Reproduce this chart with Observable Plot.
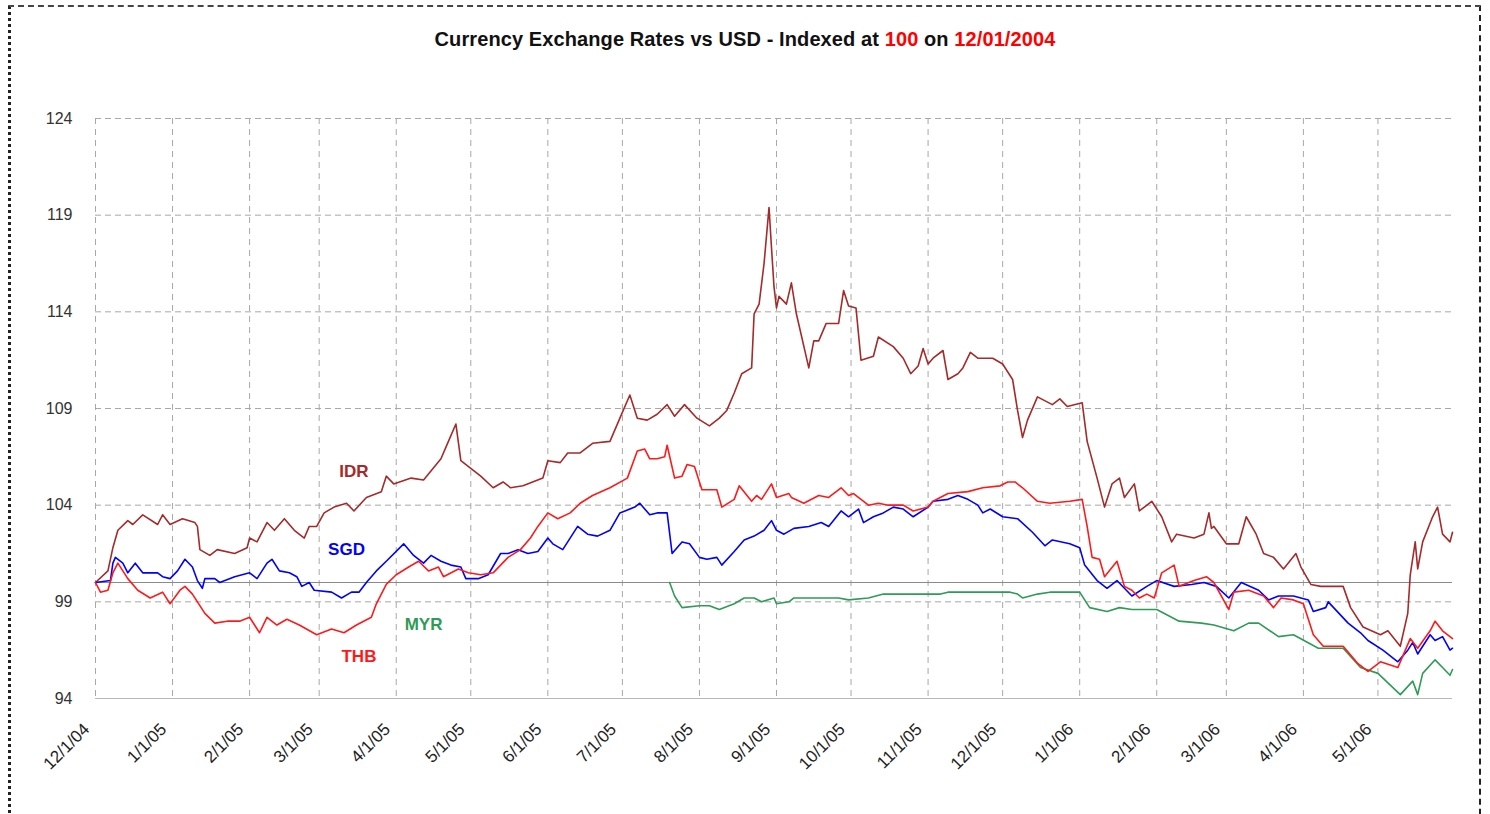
<!DOCTYPE html>
<html>
<head>
<meta charset="utf-8">
<script src="https://cdn.jsdelivr.net/npm/d3@7"></script>
<script src="https://cdn.jsdelivr.net/npm/@observablehq/plot@0.6"></script>
<style>
html,body{margin:0;padding:0;overflow:hidden;background:#fff;width:1490px;height:814px;}
body{font-family:"Liberation Sans",Arial,sans-serif;position:relative;}
#frame{position:absolute;left:8px;top:5px;width:1473px;height:840px;border-left:3px dotted #222;border-right:2px dashed #222;border-top:2px dashed #444;box-sizing:border-box;}
#title{position:absolute;top:28px;left:0;width:1490px;text-align:center;font-family:"Liberation Sans",Arial,sans-serif;font-weight:bold;font-size:20px;color:#111;letter-spacing:0.1px;}
#title .r{color:#ff0000;}
#chart{position:absolute;left:0;top:100px;}
</style>
</head>
<body>
<div id="frame"></div>
<div id="title">Currency Exchange Rates vs USD - Indexed at <span class="r">100</span> on <span class="r">12/01/2004</span></div>
<div id="chart"></div>
<script>
const currencies = ["IDR", "SGD", "THB", "MYR"];
const yTicks = [94, 99, 104, 109, 114, 119, 124];
const xTickDates = ["2004-12-01","2005-01-01","2005-02-01","2005-03-01","2005-04-01","2005-05-01","2005-06-01","2005-07-01","2005-08-01","2005-09-01","2005-10-01","2005-11-01","2005-12-01","2006-01-01","2006-02-01","2006-03-01","2006-04-01","2006-05-01"];
const xTickLabels = ["12/1/04","1/1/05","2/1/05","3/1/05","4/1/05","5/1/05","6/1/05","7/1/05","8/1/05","9/1/05","10/1/05","11/1/05","12/1/05","1/1/06","2/1/06","3/1/06","4/1/06","5/1/06"];
const xDomain = ["2004-12-01", "2006-05-31"];

const IDR = [
["2004-12-01",100.0],["2004-12-06",100.6],["2004-12-08",101.8],["2004-12-10",102.7],["2004-12-14",103.2],["2004-12-16",103.0],["2004-12-20",103.5],["2004-12-26",103.0],["2004-12-28",103.5],["2004-12-31",103.0],
["2005-01-05",103.3],["2005-01-10",103.1],["2005-01-11",102.9],["2005-01-12",101.7],["2005-01-16",101.4],["2005-01-19",101.7],["2005-01-26",101.5],["2005-01-31",101.8],
["2005-02-01",102.3],["2005-02-04",102.1],["2005-02-08",103.1],["2005-02-11",102.7],["2005-02-15",103.3],["2005-02-19",102.7],["2005-02-23",102.3],["2005-02-25",102.9],["2005-02-28",102.9],
["2005-03-03",103.6],["2005-03-07",103.9],["2005-03-12",104.1],["2005-03-15",103.7],["2005-03-20",104.4],["2005-03-26",104.7],["2005-03-28",105.5],["2005-03-31",105.1],
["2005-04-07",105.4],["2005-04-12",105.3],["2005-04-19",106.4],["2005-04-22",107.3],["2005-04-25",108.2],["2005-04-27",106.3],
["2005-05-01",105.9],["2005-05-05",105.5],["2005-05-10",104.9],["2005-05-14",105.2],["2005-05-17",104.9],["2005-05-22",105.0],["2005-05-30",105.4],
["2005-06-01",106.3],["2005-06-06",106.2],["2005-06-09",106.7],["2005-06-14",106.7],["2005-06-19",107.2],["2005-06-26",107.3],["2005-06-30",108.5],
["2005-07-04",109.7],["2005-07-07",108.5],["2005-07-11",108.4],["2005-07-15",108.7],["2005-07-19",109.2],["2005-07-22",108.6],["2005-07-26",109.2],["2005-07-31",108.5],
["2005-08-05",108.1],["2005-08-09",108.5],["2005-08-12",108.9],["2005-08-15",109.8],["2005-08-18",110.8],["2005-08-22",111.1],["2005-08-23",113.9],["2005-08-25",114.4],["2005-08-27",116.5],["2005-08-29",119.4],["2005-08-30",117.3],["2005-08-31",115.3],
["2005-09-01",114.2],["2005-09-02",114.8],["2005-09-05",114.4],["2005-09-07",115.5],["2005-09-09",113.9],["2005-09-14",111.1],["2005-09-16",112.5],["2005-09-18",112.5],["2005-09-21",113.4],["2005-09-26",113.4],["2005-09-28",115.1],["2005-09-30",114.3],
["2005-10-03",114.2],["2005-10-05",111.5],["2005-10-10",111.7],["2005-10-12",112.7],["2005-10-18",112.2],["2005-10-22",111.6],["2005-10-25",110.8],["2005-10-28",111.2],["2005-10-30",112.1],
["2005-11-01",111.3],["2005-11-03",111.6],["2005-11-07",112.0],["2005-11-09",110.5],["2005-11-13",110.8],["2005-11-15",111.1],["2005-11-18",111.9],["2005-11-21",111.6],["2005-11-27",111.6],
["2005-12-01",111.3],["2005-12-05",110.5],["2005-12-07",108.9],["2005-12-09",107.5],["2005-12-11",108.4],["2005-12-15",109.6],["2005-12-21",109.2],["2005-12-24",109.5],["2005-12-27",109.1],
["2006-01-02",109.3],["2006-01-04",107.3],["2006-01-08",105.4],["2006-01-11",103.9],["2006-01-14",105.1],["2006-01-17",105.4],["2006-01-19",104.4],["2006-01-23",105.1],["2006-01-25",103.7],["2006-01-30",104.2],
["2006-02-03",103.4],["2006-02-07",102.1],["2006-02-09",102.5],["2006-02-16",102.3],["2006-02-20",102.5],["2006-02-22",103.6],["2006-02-23",102.8],["2006-02-24",102.9],
["2006-03-01",102.0],["2006-03-06",102.0],["2006-03-09",103.4],["2006-03-13",102.5],["2006-03-16",101.5],["2006-03-20",101.3],["2006-03-24",100.7],["2006-03-29",101.5],["2006-03-31",100.8],
["2006-04-04",99.9],["2006-04-08",99.8],["2006-04-17",99.8],["2006-04-20",98.7],["2006-04-25",97.7],
["2006-05-02",97.3],["2006-05-05",97.5],["2006-05-10",96.7],["2006-05-13",98.4],["2006-05-14",100.4],["2006-05-16",102.1],["2006-05-17",100.7],["2006-05-19",102.1],["2006-05-23",103.4],["2006-05-25",103.9],["2006-05-27",102.5],["2006-05-30",102.1],["2006-05-31",102.6]
];

const SGD = [
["2004-12-01",100.0],["2004-12-07",100.1],["2004-12-08",101.0],["2004-12-09",101.3],["2004-12-12",101.0],["2004-12-14",100.5],["2004-12-17",101.0],["2004-12-20",100.5],["2004-12-26",100.5],["2004-12-28",100.3],["2004-12-31",100.2],
["2005-01-03",100.6],["2005-01-06",101.2],["2005-01-09",100.8],["2005-01-11",100.1],["2005-01-13",99.7],["2005-01-14",100.2],["2005-01-18",100.2],["2005-01-20",100.0],["2005-01-26",100.3],
["2005-02-01",100.5],["2005-02-04",100.2],["2005-02-08",101.0],["2005-02-10",101.2],["2005-02-13",100.6],["2005-02-17",100.5],["2005-02-20",100.3],["2005-02-22",99.8],["2005-02-25",100.0],["2005-02-27",99.6],
["2005-03-06",99.5],["2005-03-10",99.2],["2005-03-14",99.5],["2005-03-17",99.5],["2005-03-20",100.0],["2005-03-24",100.6],["2005-03-28",101.1],
["2005-04-04",102.0],["2005-04-08",101.4],["2005-04-12",101.0],["2005-04-15",101.4],["2005-04-19",101.1],["2005-04-23",100.9],["2005-04-27",100.8],["2005-04-29",100.2],
["2005-05-04",100.2],["2005-05-08",100.4],["2005-05-13",101.5],["2005-05-16",101.5],["2005-05-20",101.7],["2005-05-24",101.5],["2005-05-28",101.6],
["2005-06-01",102.3],["2005-06-03",102.0],["2005-06-07",101.7],["2005-06-13",102.9],["2005-06-17",102.5],["2005-06-21",102.4],["2005-06-26",102.7],["2005-06-30",103.6],
["2005-07-06",103.9],["2005-07-08",104.1],["2005-07-12",103.5],["2005-07-15",103.6],["2005-07-19",103.6],["2005-07-21",101.5],["2005-07-25",102.1],["2005-07-28",102.0],
["2005-08-01",101.3],["2005-08-04",101.2],["2005-08-08",101.3],["2005-08-10",100.9],["2005-08-15",101.6],["2005-08-19",102.2],["2005-08-23",102.4],["2005-08-27",102.7],["2005-08-30",103.2],
["2005-09-01",102.7],["2005-09-04",102.5],["2005-09-08",102.8],["2005-09-14",102.9],["2005-09-19",103.1],["2005-09-22",102.9],["2005-09-27",103.7],["2005-09-30",103.4],
["2005-10-04",103.8],["2005-10-06",103.1],["2005-10-10",103.4],["2005-10-14",103.6],["2005-10-18",103.9],["2005-10-22",103.8],["2005-10-26",103.4],
["2005-11-01",103.9],["2005-11-03",104.2],["2005-11-09",104.3],["2005-11-13",104.5],["2005-11-17",104.3],["2005-11-21",104.0],["2005-11-23",103.6],["2005-11-26",103.8],
["2005-12-01",103.4],["2005-12-07",103.3],["2005-12-13",102.6],["2005-12-18",101.9],["2005-12-21",102.2],["2005-12-28",102.0],
["2006-01-01",101.8],["2006-01-03",100.9],["2006-01-08",100.1],["2006-01-12",99.7],["2006-01-16",100.1],["2006-01-22",99.3],["2006-01-28",99.8],
["2006-02-01",100.1],["2006-02-08",99.8],["2006-02-15",99.9],["2006-02-20",100.0],["2006-02-25",99.8],
["2006-03-02",99.2],["2006-03-07",100.0],["2006-03-14",99.6],["2006-03-18",99.1],["2006-03-22",99.3],["2006-03-28",99.3],
["2006-04-03",99.1],["2006-04-05",98.5],["2006-04-10",98.7],["2006-04-11",99.0],["2006-04-19",97.9],["2006-04-24",97.4],["2006-04-27",97.0],
["2006-05-03",96.5],["2006-05-09",95.9],["2006-05-13",96.5],["2006-05-15",96.9],["2006-05-17",96.3],["2006-05-22",97.3],["2006-05-24",97.0],["2006-05-27",97.2],["2006-05-30",96.5],["2006-05-31",96.6]
];

const THB = [
["2004-12-01",100.0],["2004-12-03",99.5],["2004-12-06",99.6],["2004-12-08",100.5],["2004-12-10",101.0],["2004-12-12",100.6],["2004-12-14",100.2],["2004-12-18",99.6],["2004-12-23",99.2],["2004-12-28",99.5],["2004-12-31",98.9],
["2005-01-04",99.6],["2005-01-06",99.8],["2005-01-09",99.4],["2005-01-14",98.4],["2005-01-18",97.9],["2005-01-23",98.0],["2005-01-28",98.0],
["2005-02-01",98.2],["2005-02-03",97.8],["2005-02-05",97.4],["2005-02-08",98.2],["2005-02-12",97.8],["2005-02-16",98.1],["2005-02-21",97.8],["2005-02-28",97.3],
["2005-03-06",97.6],["2005-03-11",97.4],["2005-03-16",97.8],["2005-03-22",98.2],["2005-03-24",98.9],["2005-03-28",99.9],
["2005-04-01",100.4],["2005-04-06",100.8],["2005-04-10",101.1],["2005-04-14",100.6],["2005-04-18",100.8],["2005-04-20",100.3],["2005-04-26",100.7],["2005-04-30",100.5],
["2005-05-05",100.4],["2005-05-10",100.5],["2005-05-16",101.3],["2005-05-21",101.7],["2005-05-25",102.3],["2005-05-28",102.9],
["2005-06-01",103.6],["2005-06-05",103.3],["2005-06-10",103.6],["2005-06-14",104.1],["2005-06-19",104.5],["2005-06-26",104.9],
["2005-07-03",105.4],["2005-07-07",106.8],["2005-07-10",106.9],["2005-07-12",106.4],["2005-07-15",106.4],["2005-07-18",106.5],["2005-07-19",107.1],["2005-07-22",105.4],["2005-07-25",105.5],["2005-07-27",106.1],["2005-07-30",106.0],
["2005-08-02",104.8],["2005-08-06",104.8],["2005-08-08",104.8],["2005-08-10",103.9],["2005-08-15",104.3],["2005-08-17",105.0],["2005-08-22",104.2],["2005-08-24",104.5],["2005-08-26",104.3],["2005-08-30",105.1],
["2005-09-01",104.4],["2005-09-06",104.6],["2005-09-07",104.4],["2005-09-12",104.1],["2005-09-18",104.5],["2005-09-22",104.4],["2005-09-27",104.9],["2005-09-30",104.5],
["2005-10-02",104.6],["2005-10-08",104.0],["2005-10-12",104.1],["2005-10-16",104.0],["2005-10-22",104.0],["2005-10-26",103.7],
["2005-11-01",103.9],["2005-11-03",104.2],["2005-11-09",104.6],["2005-11-17",104.7],["2005-11-23",104.9],["2005-11-30",105.0],
["2005-12-03",105.2],["2005-12-06",105.2],["2005-12-09",104.9],["2005-12-15",104.2],["2005-12-20",104.1],["2005-12-28",104.2],
["2006-01-02",104.3],["2006-01-04",102.9],["2006-01-06",101.3],["2006-01-09",101.2],["2006-01-11",100.3],["2006-01-16",101.1],["2006-01-19",99.8],["2006-01-22",99.6],["2006-01-25",99.2],["2006-01-28",99.4],["2006-01-31",99.2],
["2006-02-03",100.5],["2006-02-08",100.9],["2006-02-10",99.8],["2006-02-16",100.1],["2006-02-21",100.3],["2006-02-24",100.0],
["2006-03-02",98.6],["2006-03-04",99.5],["2006-03-10",99.6],["2006-03-16",99.3],["2006-03-20",98.7],["2006-03-23",99.2],["2006-03-28",99.1],
["2006-04-01",98.9],["2006-04-05",97.3],["2006-04-09",96.7],["2006-04-15",96.7],["2006-04-17",96.7],["2006-04-23",95.8],["2006-04-27",95.4],
["2006-05-02",95.9],["2006-05-09",95.6],["2006-05-14",97.1],["2006-05-17",96.6],["2006-05-22",97.5],["2006-05-24",98.0],["2006-05-27",97.5],["2006-05-31",97.1]
];

const MYR = [
["2005-07-20",100.0],["2005-07-22",99.3],["2005-07-25",98.7],
["2005-08-01",98.8],["2005-08-05",98.8],["2005-08-09",98.6],["2005-08-15",98.9],["2005-08-19",99.2],["2005-08-23",99.2],["2005-08-26",99.0],["2005-08-31",99.2],
["2005-09-01",98.9],["2005-09-06",99.0],["2005-09-08",99.2],["2005-09-18",99.2],["2005-09-26",99.2],["2005-09-30",99.1],
["2005-10-08",99.2],["2005-10-14",99.4],["2005-11-06",99.4],["2005-11-09",99.5],
["2005-12-04",99.5],["2005-12-07",99.4],["2005-12-09",99.2],["2005-12-15",99.4],["2005-12-20",99.5],
["2006-01-01",99.5],["2006-01-05",98.7],["2006-01-12",98.5],["2006-01-17",98.7],["2006-01-22",98.6],["2006-01-27",98.6],
["2006-02-01",98.6],["2006-02-10",98.0],["2006-02-19",97.9],["2006-02-24",97.8],
["2006-03-04",97.5],["2006-03-10",97.9],["2006-03-14",97.9],["2006-03-22",97.2],["2006-03-28",97.3],
["2006-04-07",96.6],["2006-04-17",96.6],["2006-04-24",95.6],
["2006-05-01",95.3],["2006-05-10",94.2],["2006-05-15",94.9],["2006-05-17",94.2],["2006-05-19",95.3],["2006-05-24",96.0],["2006-05-27",95.6],["2006-05-30",95.2],["2006-05-31",95.5]
];

// series label anchors (date, value)
const seriesLabels = [
  ["IDR", "2005-03-15", 105.75],
  ["SGD", "2005-03-12", 101.7],
  ["MYR", "2005-04-12", 97.8],
  ["THB", "2005-03-17", 96.15]
];

const seriesData = {IDR, SGD, THB, MYR};
const colorRange = ["#a52a2a", "#0000ff", "#ff1a1a", "#2e9b57"];

const rows = currencies.flatMap(c => seriesData[c].map(([d, v]) => ({currency: c, date: new Date(d), value: v})));
const labelRows = seriesLabels.map(([c, d, v]) => ({currency: c, date: new Date(d), value: v}));
const tickDates = xTickDates.map(d => new Date(d));
const tickLabelMap = new Map(tickDates.map((d, i) => [+d, xTickLabels[i]]));

const drawOrder = ["MYR", "IDR", "SGD", "THB"];

const chart = Plot.plot({
  width: 1490,
  height: 714,
  marginLeft: 95,
  marginRight: 38,
  marginTop: 18,
  marginBottom: 116,
  style: {fontFamily: "'Liberation Sans', Arial, sans-serif", background: "transparent", overflow: "visible", color: "#222"},
  x: {type: "utc", domain: xDomain.map(d => new Date(d))},
  y: {domain: [yTicks[0], yTicks[yTicks.length - 1]]},
  color: {domain: currencies, range: colorRange},
  marks: [
    Plot.gridY(yTicks, {stroke: "#a8a8a8", strokeOpacity: 1, strokeDasharray: "6,4"}),
    Plot.gridX(tickDates, {stroke: "#a8a8a8", strokeOpacity: 1, strokeDasharray: "6,5"}),
    Plot.ruleY([yTicks[0]], {stroke: "#b8b8b8"}),
    Plot.ruleY([100], {stroke: "#8a8a8a", strokeWidth: 1}),
    Plot.axisY(yTicks, {tickSize: 0, tickPadding: 23, fontSize: 16, fill: "#333", label: null}),
    Plot.axisX(tickDates, {tickSize: 0, tickPadding: 28, dx: -9, tickRotate: -45, fontSize: 17, fill: "#222", label: null, tickFormat: d => tickLabelMap.get(+d)}),
    ...drawOrder.map(c => Plot.line(rows.filter(r => r.currency === c), {x: "date", y: "value", stroke: "currency", strokeWidth: 1.6})),
    Plot.text(labelRows, {x: "date", y: "value", text: "currency", fill: "currency", fontSize: 17, fontWeight: "bold"})
  ]
});
document.getElementById("chart").appendChild(chart);
</script>
</body>
</html>
